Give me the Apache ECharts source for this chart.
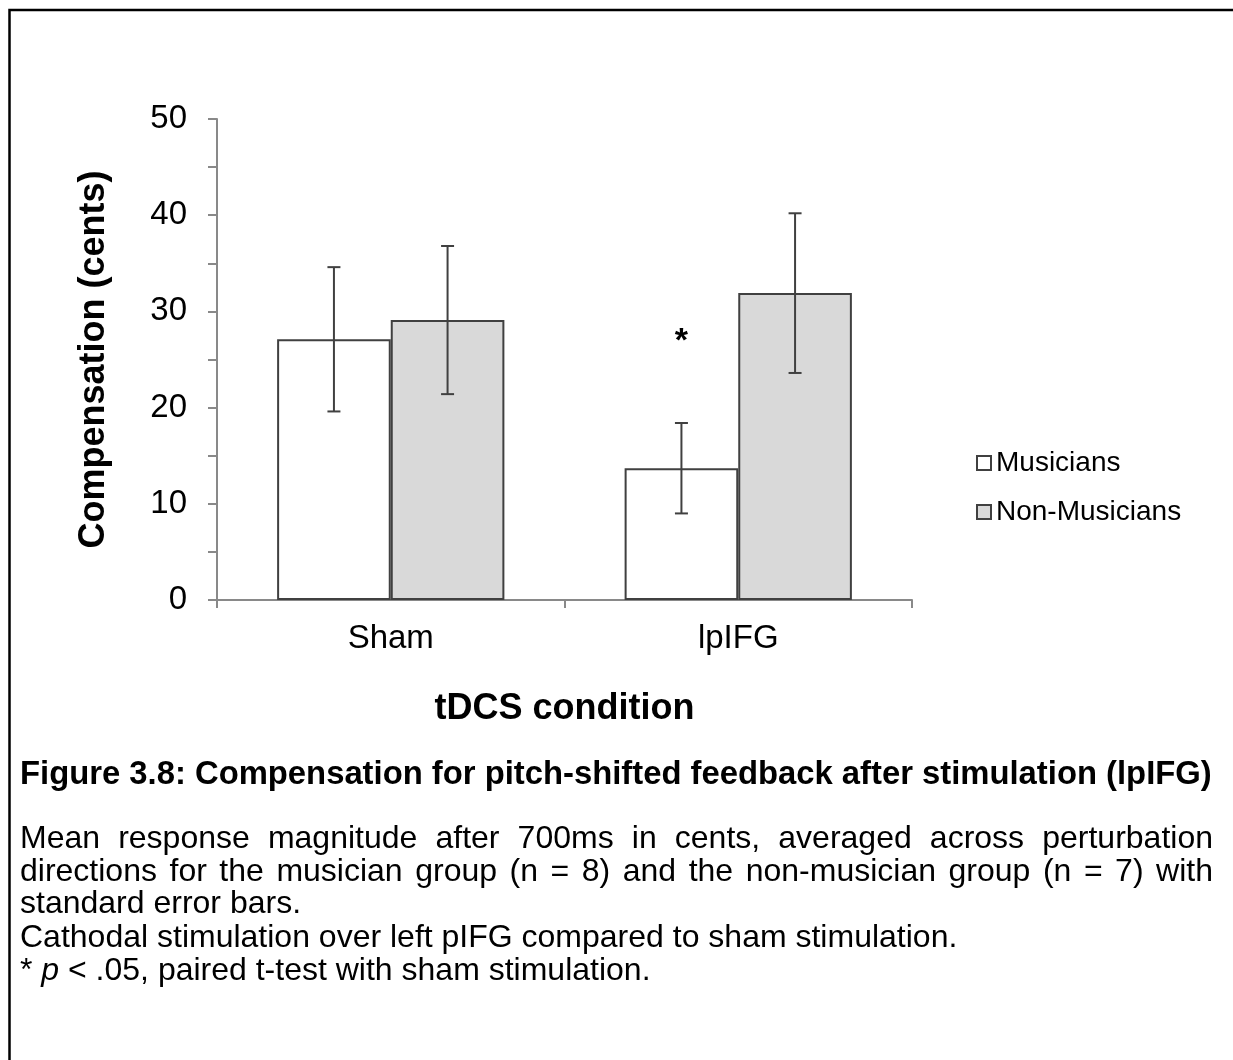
<!DOCTYPE html>
<html>
<head>
<meta charset="utf-8">
<title>Compensation for pitch-shifted feedback</title>
<script src="https://cdn.jsdelivr.net/npm/echarts@6/dist/echarts.min.js"></script>
<style>
  html, body { margin: 0; padding: 0; background: #fff; }
  #chart { width: 1233px; height: 1060px; }
</style>
</head>
<body>
<div id="chart"></div>
<script>
// data
var conditions = ['Sham', 'lpIFG'];
var groups = ['Musicians', 'Non-Musicians'];
var musicians = [27.1, 13.7];
var nonMusicians = [29.1, 31.9];
var musiciansErr = [7.5, 4.7];
var nonMusiciansErr = [7.7, 8.3];
var sigMarks = ['', '*'];
var sigLevel = [0, 26.9];
var yTicks = [0, 10, 20, 30, 40, 50];

var captionTitle = 'Figure 3.8: Compensation for pitch-shifted feedback after stimulation (lpIFG)';
var captionJustified = [
    'Mean response magnitude after 700ms in cents, averaged across perturbation',
    'directions for the musician group (n = 8) and the non-musician group (n = 7) with'
];
var captionPlain = [
    'standard error bars.',
    'Cathodal stimulation over left pIFG compared to sham stimulation.'
];

var FONT = 'Arial, "Liberation Sans", sans-serif';
var BAR_FRAC = 0.327;
var EDGE = '#404040';
var AXIS = '#898989';

var chart = echarts.init(document.getElementById('chart'));

// error bar: vertical line with caps, shifted to the bar of its group
function renderErr(params, api) {
    var ci = api.value(0), mean = api.value(1), err = api.value(2), side = api.value(3);
    var band = api.size([1, 0])[0];
    var off = (side === 0 ? -1 : 1) * band * BAR_FRAC / 2;
    var hi = api.coord([ci, mean + err]);
    var lo = api.coord([ci, mean - err]);
    var x = hi[0] + off, cap = 6.5;
    var st = { stroke: EDGE, lineWidth: 2 };
    return {
        type: 'group',
        children: [
            { type: 'line', shape: { x1: x, y1: hi[1], x2: x, y2: lo[1] }, style: st },
            { type: 'line', shape: { x1: x - cap, y1: hi[1], x2: x + cap, y2: hi[1] }, style: st },
            { type: 'line', shape: { x1: x - cap, y1: lo[1], x2: x + cap, y2: lo[1] }, style: st }
        ]
    };
}

function renderSig(params, api) {
    var ci = api.value(0);
    var band = api.size([1, 0])[0];
    var p = api.coord([ci, api.value(1)]);
    return {
        type: 'text',
        x: p[0] - band * BAR_FRAC / 2,
        y: p[1],
        style: {
            text: sigMarks[ci], font: 'bold 34px ' + FONT, fill: '#000',
            align: 'center', verticalAlign: 'middle'
        }
    };
}

var errData = [];
conditions.forEach(function (c, i) {
    errData.push([i, musicians[i], musiciansErr[i], 0]);
    errData.push([i, nonMusicians[i], nonMusiciansErr[i], 1]);
});
var sigData = [];
sigMarks.forEach(function (m, i) {
    if (m) sigData.push([i, sigLevel[i]]);
});

// caption built as text elements, justified lines spread word by word
var measureCtx = document.createElement('canvas').getContext('2d');
function textWidth(str, font) {
    measureCtx.font = font;
    return measureCtx.measureText(str).width;
}

var capLeft = 20, capRight = 1213;
var bodyFont = '32px ' + FONT;
var graphics = [
    {
        type: 'polyline',
        shape: { points: [[1233, 10], [9.5, 10], [9.5, 1060]] },
        style: { stroke: '#000', lineWidth: 2.5, fill: null }
    },
    {
        type: 'text', x: capLeft, y: 775,
        style: { text: captionTitle, font: 'bold 32.8px ' + FONT, fill: '#000', verticalAlign: 'middle' }
    }
];
var lineY = [839, 872];
captionJustified.forEach(function (line, li) {
    var words = line.split(' ');
    var total = 0;
    words.forEach(function (w) { total += textWidth(w, bodyFont); });
    var gap = (capRight - capLeft - total) / (words.length - 1);
    var x = capLeft;
    words.forEach(function (w) {
        graphics.push({
            type: 'text', x: x, y: lineY[li],
            style: { text: w, font: bodyFont, fill: '#000', verticalAlign: 'middle' }
        });
        x += textWidth(w, bodyFont) + gap;
    });
});
var plainY = [904, 938];
captionPlain.forEach(function (line, li) {
    graphics.push({
        type: 'text', x: capLeft, y: plainY[li],
        style: { text: line, font: bodyFont, fill: '#000', verticalAlign: 'middle' }
    });
});
graphics.push({
    type: 'text', x: capLeft, y: 971,
    style: {
        text: '{a|* }{i|p}{a| < .05, paired t-test with sham stimulation.}',
        verticalAlign: 'middle',
        rich: {
            a: { fontSize: 32, fontFamily: FONT, color: '#000' },
            i: { fontSize: 32, fontFamily: FONT, fontStyle: 'italic', color: '#000' }
        }
    }
});

var option = {
    animation: false,
    backgroundColor: '#fff',
    grid: { left: 217, right: 321, top: 119, bottom: 460, containLabel: false },
    legend: {
        data: groups,
        orient: 'vertical',
        left: 971,
        top: 444,
        icon: 'rect',
        itemWidth: 14,
        itemHeight: 14,
        itemGap: 21,
        textStyle: { fontSize: 28, fontFamily: FONT, color: '#000', lineHeight: 28 }
    },
    xAxis: {
        type: 'category',
        data: conditions,
        name: 'tDCS condition',
        nameLocation: 'middle',
        nameGap: 91,
        nameTextStyle: { fontSize: 36, fontWeight: 'bold', fontFamily: FONT, color: '#000' },
        axisLine: { lineStyle: { color: AXIS, width: 2 } },
        axisTick: { show: true, length: 8, interval: 0, lineStyle: { color: AXIS, width: 2 } },
        axisLabel: { fontSize: 33, fontFamily: FONT, color: '#000', margin: 22 }
    },
    yAxis: {
        type: 'value',
        min: 0,
        max: yTicks[yTicks.length - 1],
        interval: 5,
        name: 'Compensation (cents)',
        nameLocation: 'middle',
        nameGap: 105,
        nameTextStyle: { fontSize: 36, fontWeight: 'bold', fontFamily: FONT, color: '#000' },
        axisLine: { show: true, lineStyle: { color: AXIS, width: 2 } },
        axisTick: { show: true, length: 9, lineStyle: { color: AXIS, width: 2 } },
        splitLine: { show: false },
        axisLabel: {
            fontSize: 33, fontFamily: FONT, color: '#000', margin: 30,
            formatter: function (v) { return yTicks.indexOf(v) >= 0 ? String(v) : ''; }
        }
    },
    series: [
        {
            name: groups[0], type: 'bar', data: musicians,
            barWidth: (BAR_FRAC * 100) + '%', barGap: '0%',
            itemStyle: { color: '#ffffff', borderColor: EDGE, borderWidth: 2 }
        },
        {
            name: groups[1], type: 'bar', data: nonMusicians,
            barWidth: (BAR_FRAC * 100) + '%', barGap: '0%',
            itemStyle: { color: '#d9d9d9', borderColor: EDGE, borderWidth: 2 }
        },
        { name: 'err', type: 'custom', renderItem: renderErr, data: errData, z: 5 },
        { name: 'sig', type: 'custom', renderItem: renderSig, data: sigData, z: 5 }
    ],
    graphic: graphics
};

chart.setOption(option);
</script>
</body>
</html>
